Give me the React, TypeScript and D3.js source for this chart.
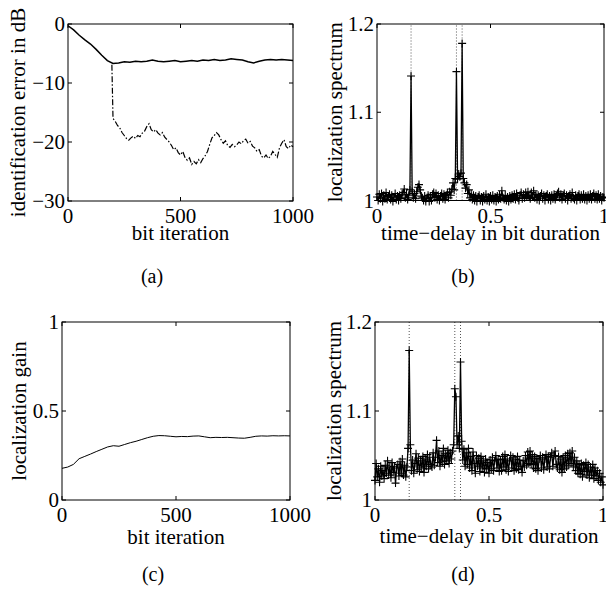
import React from 'react';
import * as d3 from 'd3';

// ---------- data ----------
const errIter = [0, 25, 50, 75, 100, 125, 150, 175, 200, 225, 250, 275, 300, 325, 350, 375, 400, 425, 450, 475, 500, 525, 550, 575, 600, 625, 650, 675, 700, 725, 750, 775, 800, 825, 850, 875, 900, 925, 950, 975, 1000];
const errBasic = [-0.3, -1.0, -1.9, -2.7, -3.4, -4.3, -5.3, -6.2, -6.7, -6.6, -6.4, -6.5, -6.3, -6.4, -6.3, -6.1, -6.3, -6.4, -6.3, -6.2, -6.4, -6.3, -6.2, -6.3, -6.1, -6.2, -6.0, -6.2, -6.1, -5.9, -6.0, -6.1, -6.4, -6.6, -6.3, -6.1, -6.0, -6.1, -6.0, -6.1, -6.2];

const enhIter = [195, 200, 210, 220, 230, 240, 250, 260, 270, 280, 290, 300, 310, 320, 330, 340, 350, 360, 370, 380, 390, 400, 410, 420, 430, 440, 450, 460, 470, 480, 490, 500, 510, 520, 530, 540, 550, 560, 570, 580, 590, 600, 610, 620, 630, 640, 650, 660, 670, 680, 690, 700, 710, 720, 730, 740, 750, 760, 770, 780, 790, 800, 810, 820, 830, 840, 850, 860, 870, 880, 890, 900, 910, 920, 930, 940, 950, 960, 970, 980, 990, 1000];
const errEnhanced = [-6.9, -16.0, -16.5, -17.2, -17.6, -18.4, -18.9, -19.4, -19.7, -19.3, -19.0, -19.4, -18.9, -19.1, -18.5, -18.2, -17.4, -16.9, -17.9, -18.3, -17.9, -18.5, -18.8, -18.4, -19.2, -19.6, -20.0, -20.6, -21.3, -21.0, -21.8, -22.2, -21.6, -22.6, -23.1, -22.7, -23.8, -23.3, -23.7, -23.0, -23.5, -22.8, -22.3, -21.6, -20.4, -19.3, -18.9, -18.4, -18.8, -19.6, -20.2, -19.8, -20.6, -20.9, -20.4, -20.8, -20.5, -20.0, -20.3, -19.8, -19.5, -20.2, -19.9, -20.7, -21.0, -21.6, -21.3, -22.4, -22.7, -22.2, -22.8, -22.4, -21.6, -22.1, -22.6, -21.0, -20.2, -19.6, -20.8, -21.1, -20.5, -20.8];

const gainIter = errIter;
const gainValues = [0.178, 0.185, 0.200, 0.232, 0.245, 0.258, 0.272, 0.285, 0.298, 0.305, 0.302, 0.312, 0.322, 0.330, 0.340, 0.350, 0.358, 0.362, 0.361, 0.358, 0.355, 0.357, 0.356, 0.359, 0.360, 0.355, 0.350, 0.352, 0.351, 0.352, 0.350, 0.348, 0.347, 0.352, 0.358, 0.360, 0.359, 0.361, 0.360, 0.361, 0.360];

// spectrum samples at time-delay 0, 0.005, ..., 1
const spectrumB = [
  1.004, 1.000, 1.007, 1.002, 1.008, 0.999, 1.006, 1.002, 1.009, 1.001,
  1.005, 1.007, 1.001, 1.006, 0.999, 1.004, 1.008, 1.001, 1.005, 1.000,
  1.006, 1.002, 1.007, 1.009, 1.013, 1.003, 1.007, 1.001, 1.006, 1.012,
  1.141, 1.010, 1.003, 1.008, 1.002, 1.010, 1.015, 1.018, 1.012, 1.005,
  1.003, 1.000, 1.005, 0.999, 1.003, 1.006, 0.999, 1.004, 1.000, 1.007,
  1.009, 1.003, 1.008, 1.001, 1.006, 1.000, 1.005, 1.008, 1.002, 1.007,
  1.001, 1.006, 1.009, 1.003, 1.010, 1.006, 1.013, 1.020, 1.012, 1.025,
  1.146, 1.024, 1.030, 1.027, 1.031, 1.178, 1.025, 1.020, 1.014, 1.018,
  1.008, 1.012, 1.003, 1.007, 1.001, 1.006, 1.000, 1.005, 0.999, 1.004,
  1.006, 1.000, 1.004, 0.999, 1.005, 1.001, 1.007, 1.000, 1.004, 0.999,
  1.005, 1.001, 1.006, 1.000, 1.004, 0.999, 1.005, 1.001, 1.007, 1.002,
  1.011, 1.003, 1.001, 1.006, 1.000, 1.004, 0.999, 1.005, 1.001, 1.006,
  1.002, 1.007, 1.001, 1.008, 1.003, 1.000, 1.006, 1.009, 1.002, 1.007,
  1.003, 1.009, 1.004, 1.010, 1.005, 1.002, 1.009, 1.004, 1.011, 1.003,
  1.007, 1.001, 1.006, 1.000, 1.005, 1.008, 1.002, 1.006, 1.000, 1.005,
  1.007, 1.001, 1.005, 1.000, 1.006, 1.002, 1.007, 1.001, 1.005, 1.008,
  1.010, 1.003, 1.007, 1.001, 1.006, 1.008, 1.002, 1.006, 1.000, 1.005,
  1.007, 1.002, 1.009, 1.003, 1.001, 1.006, 1.000, 1.005, 1.007, 1.001,
  1.006, 1.002, 1.007, 1.001, 1.005, 1.000, 1.006, 1.002, 1.007, 1.001,
  1.005, 1.008, 1.002, 1.006, 1.001, 1.007, 1.002, 1.005, 1.000, 1.004, 1.003,
];
const spectrumD = [
  1.022, 1.041, 1.026, 1.035, 1.020, 1.038, 1.027, 1.033, 1.024, 1.039,
  1.030, 1.044, 1.028, 1.037, 1.025, 1.042, 1.031, 1.038, 1.019, 1.036,
  1.040, 1.027, 1.043, 1.030, 1.046, 1.028, 1.039, 1.026, 1.037, 1.058,
  1.168, 1.062, 1.033, 1.045, 1.030, 1.041, 1.052, 1.034, 1.047, 1.032,
  1.044, 1.036, 1.049, 1.031, 1.046, 1.038, 1.051, 1.035, 1.048, 1.040,
  1.037, 1.053, 1.039, 1.048, 1.067, 1.042, 1.055, 1.038, 1.050, 1.043,
  1.058, 1.040, 1.052, 1.044, 1.056, 1.041, 1.053, 1.046, 1.055, 1.062,
  1.125, 1.116, 1.062, 1.072, 1.058, 1.155, 1.066, 1.045, 1.057, 1.038,
  1.053, 1.040, 1.058, 1.036, 1.049, 1.033, 1.054, 1.041, 1.030, 1.050,
  1.038, 1.047, 1.032, 1.049, 1.036, 1.044, 1.031, 1.046, 1.035, 1.042,
  1.030, 1.045, 1.035, 1.048, 1.033, 1.044, 1.050, 1.036, 1.046, 1.032,
  1.045, 1.033, 1.049, 1.037, 1.051, 1.034, 1.046, 1.032, 1.044, 1.050,
  1.036, 1.048, 1.033, 1.046, 1.035, 1.049, 1.034, 1.045, 1.038, 1.031,
  1.044, 1.037, 1.050, 1.039, 1.054, 1.041, 1.055, 1.040, 1.051, 1.036,
  1.049, 1.035, 1.047, 1.033, 1.046, 1.050, 1.036, 1.048, 1.034, 1.046,
  1.051, 1.037, 1.049, 1.035, 1.048, 1.053, 1.038, 1.050, 1.055, 1.040,
  1.036, 1.049, 1.034, 1.046, 1.031, 1.048, 1.035, 1.050, 1.037, 1.052,
  1.039, 1.053, 1.041, 1.055, 1.037, 1.048, 1.033, 1.044, 1.030, 1.040,
  1.029, 1.041, 1.026, 1.039, 1.032, 1.042, 1.028, 1.040, 1.025, 1.037,
  1.028, 1.040, 1.024, 1.036, 1.027, 1.033, 1.022, 1.030, 1.020, 1.026, 1.017,
];
const trueDelays = [0.15, 0.35, 0.375];

const iterTicks = [0, 500, 1000];
const errTicks = [0, -10, -20, -30];
const gainTicks = [0, 0.5, 1];
const delayTicks = [0, 0.5, 1];
const specTicks = [1, 1.1, 1.2];

// ---------- drawing ----------
const FONT = "Liberation Serif, Times New Roman, serif";
const FS = 21;

type Box = { l: number; r: number; t: number; b: number };

function fmt(v: number) {
  return String(v).replace('-', '\u2212');
}

const txt = { fontFamily: FONT, fontSize: FS } as React.CSSProperties;

function Frame({ box, x, y, xTicks, yTicks, xLabel, yLabel, yLabelX, xLabelDy, caption }: any) {
  const { l, r, t, b } = box as Box;
  const tl = 4;
  return (
    <g>
      <rect x={l} y={t} width={r - l} height={b - t} fill="none" stroke="#000" strokeWidth={1} />
      {xTicks.map((v: number) => (
        <g key={'x' + v}>
          <line x1={x(v)} x2={x(v)} y1={b} y2={b - tl} stroke="#000" />
          <line x1={x(v)} x2={x(v)} y1={t} y2={t + tl} stroke="#000" />
          <text x={x(v)} y={b + 22} textAnchor="middle" style={txt}>{fmt(v)}</text>
        </g>
      ))}
      {yTicks.map((v: number) => (
        <g key={'y' + v}>
          <line x1={l} x2={l + tl} y1={y(v)} y2={y(v)} stroke="#000" />
          <line x1={r} x2={r - tl} y1={y(v)} y2={y(v)} stroke="#000" />
          <text x={l - 3} y={y(v) + 7} textAnchor="end" style={txt}>{fmt(v)}</text>
        </g>
      ))}
      <text x={(l + r) / 2} y={b + xLabelDy} textAnchor="middle" style={txt}>{xLabel}</text>
      <text transform={`translate(${yLabelX},${(t + b) / 2}) rotate(-90)`} textAnchor="middle" style={txt}>{yLabel}</text>
      <text x={caption[0]} y={caption[1]} textAnchor="middle" style={{ fontFamily: FONT, fontSize: 20 }}>{caption[2]}</text>
    </g>
  );
}

function crosses(pts: [number, number][], s: number) {
  return pts.map(([px, py]) => `M${px - s},${py}h${2 * s}M${px},${py - s}v${2 * s}`).join('');
}

export default function App() {
  const boxA: Box = { l: 68, r: 293, t: 24, b: 201 };
  const boxB: Box = { l: 377, r: 604, t: 24, b: 200.5 };
  const boxC: Box = { l: 62, r: 290, t: 322, b: 500 };
  const boxD: Box = { l: 375, r: 603, t: 322, b: 500 };

  const xA = d3.scaleLinear().domain([0, 1000]).range([boxA.l, boxA.r]);
  const yA = d3.scaleLinear().domain([-30, 0]).range([boxA.b, boxA.t]);
  const xB = d3.scaleLinear().domain([0, 1]).range([boxB.l, boxB.r]);
  const yB = d3.scaleLinear().domain([1, 1.2]).range([boxB.b, boxB.t]);
  const xC = d3.scaleLinear().domain([0, 1000]).range([boxC.l, boxC.r]);
  const yC = d3.scaleLinear().domain([0, 1]).range([boxC.b, boxC.t]);
  const xD = d3.scaleLinear().domain([0, 1]).range([boxD.l, boxD.r]);
  const yD = d3.scaleLinear().domain([1, 1.2]).range([boxD.b, boxD.t]);

  const line = d3.line<[number, number]>();

  const basicPts: [number, number][] = errIter.map((v, i) => [xA(v), yA(errBasic[i])]);
  const enhPts: [number, number][] = enhIter.map((v, i) => [xA(v), yA(errEnhanced[i])]);
  const gainPts: [number, number][] = gainIter.map((v, i) => [xC(v), yC(gainValues[i])]);
  const delays = d3.range(spectrumB.length).map((i) => i / (spectrumB.length - 1));
  const bPts: [number, number][] = delays.map((dl, i) => [xB(dl), yB(spectrumB[i])]);
  const dPts: [number, number][] = delays.map((dl, i) => [xD(dl), yD(spectrumD[i])]);

  return (
    <svg width={606} height={589} style={{ position: 'absolute', left: 0, top: 0, background: '#fff' }}>
      <rect width={606} height={589} fill="#fff" />
      {/* (a) */}
      <path d={line(basicPts) || ''} fill="none" stroke="#000" strokeWidth={1.5} />
      <path d={line(enhPts) || ''} fill="none" stroke="#000" strokeWidth={1.2} strokeDasharray="6,2,1.5,2" />
      <Frame box={boxA} x={xA} y={yA} xTicks={iterTicks} yTicks={errTicks} xLabel="bit iteration"
        yLabel="identification error in dB" yLabelX={25} xLabelDy={39} caption={[152, 283, '(a)']} />

      {/* (b) */}
      {trueDelays.map((dl) => (
        <line key={dl} x1={xB(dl)} x2={xB(dl)} y1={boxB.b} y2={boxB.t} stroke="#555" strokeWidth={1} strokeDasharray="1,2" />
      ))}
      <path d={line(bPts) || ''} fill="none" stroke="#000" strokeWidth={1.3} />
      <path d={crosses(bPts, 4)} fill="none" stroke="#000" strokeWidth={1.1} />
      <Frame box={boxB} x={xB} y={yB} xTicks={delayTicks} yTicks={specTicks} xLabel="time−delay in bit duration"
        yLabel="localization spectrum" yLabelX={342} xLabelDy={39} caption={[463, 283, '(b)']} />

      {/* (c) */}
      <path d={line(gainPts) || ''} fill="none" stroke="#000" strokeWidth={1} />
      <Frame box={boxC} x={xC} y={yC} xTicks={iterTicks} yTicks={gainTicks} xLabel="bit iteration"
        yLabel="localization gain" yLabelX={26} xLabelDy={44} caption={[153, 581, '(c)']} />

      {/* (d) */}
      {trueDelays.map((dl) => (
        <line key={dl} x1={xD(dl)} x2={xD(dl)} y1={boxD.b} y2={boxD.t} stroke="#555" strokeWidth={1} strokeDasharray="1,2" />
      ))}
      <path d={line(dPts) || ''} fill="none" stroke="#000" strokeWidth={1.3} />
      <path d={crosses(dPts, 4)} fill="none" stroke="#000" strokeWidth={1.1} />
      <Frame box={boxD} x={xD} y={yD} xTicks={delayTicks} yTicks={specTicks} xLabel="time−delay in bit duration"
        yLabel="localization spectrum" yLabelX={341} xLabelDy={43} caption={[463, 581, '(d)']} />
    </svg>
  );
}
